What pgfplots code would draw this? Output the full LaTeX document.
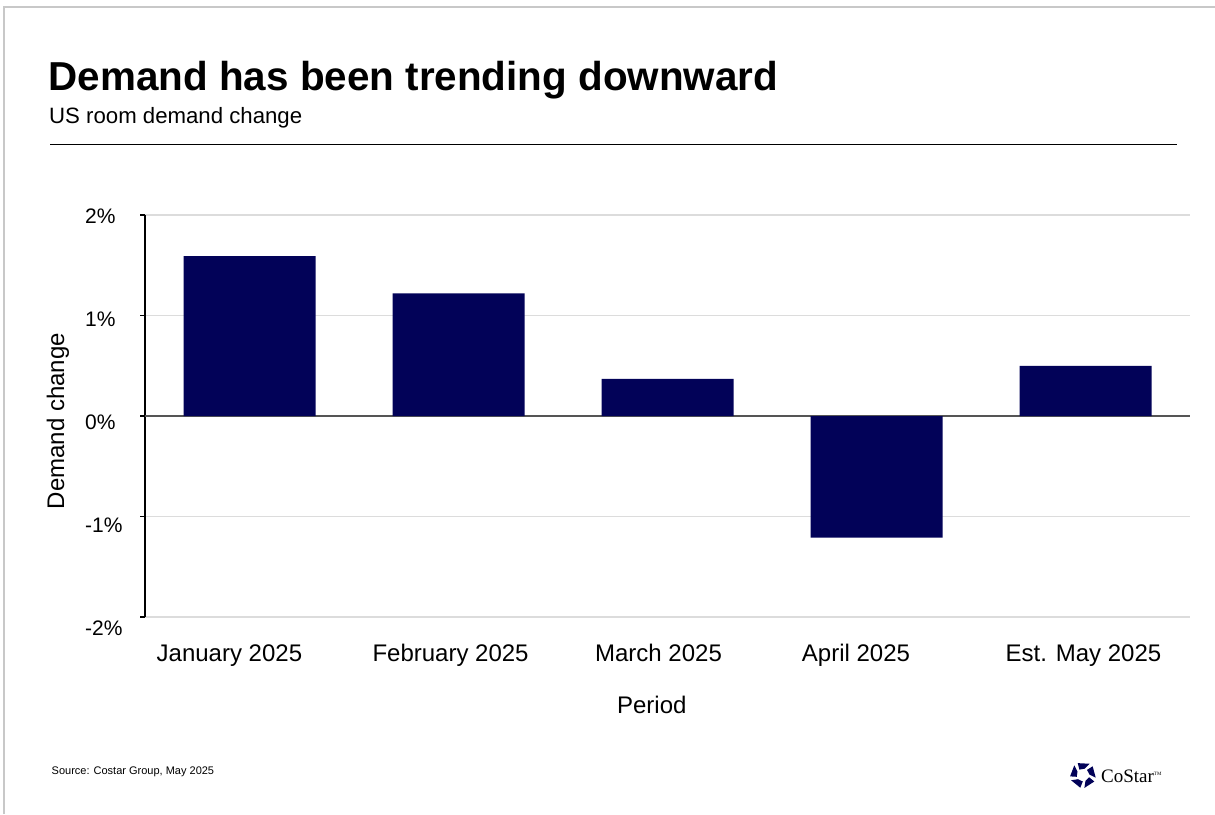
\documentclass[border=0pt]{standalone}
\usepackage{pgfplots}
\pgfplotsset{compat=1.18}
\usepackage{pgfplotstable}
\usepackage{fontspec}
\setmainfont{Liberation Sans}
\newfontfamily\seriffont{Liberation Serif}
\definecolor{navy}{RGB}{2,2,88}
\definecolor{gridgray}{RGB}{220,220,220}
\definecolor{zerogray}{RGB}{85,85,85}
\definecolor{bordergray}{RGB}{200,200,200}
\pgfplotstableread{
x y
0 1.59
1 1.22
2 0.37
3 -1.21
4 0.50
}\demand
\begin{document}
\begin{tikzpicture}
\path[use as bounding box] (0,0) rectangle (1215pt,-814pt);
\fill[white] (0,0) rectangle (1215pt,-814pt);
\draw[bordergray, line width=1.2pt] (4pt,-814pt) -- (4pt,-7pt) -- (1215pt,-7pt);
\node[anchor=base west, inner sep=0pt, font=\fontsize{40.4}{48}\selectfont\bfseries] at (48.5pt,-90pt) {Demand has been trending downward};
\node[anchor=base west, inner sep=0pt, font=\fontsize{22.2}{26}\selectfont] at (49pt,-123pt) {US room demand change};
\draw[black, line width=1.6pt] (50pt,-144.5pt) -- (1177pt,-144.5pt);
\begin{axis}[
  at={(145pt,-617pt)}, anchor=south west,
  scale only axis, width=1045pt, height=402pt,
  xmin=-0.5, xmax=4.5, ymin=-2, ymax=2,
  ybar, bar width=132pt,
  axis x line*=bottom, axis y line*=left,
  x axis line style={draw=none},
  y axis line style={black, line width=1.4pt},
  tick align=outside, major tick length=5pt,
  ytick style={black, line width=1.2pt},
  xtick style={draw=none},
  ytick={-2,-1,0,1,2},
  yticklabels={\raisebox{-5pt}{-2\%},\raisebox{-2.5pt}{-1\%},0\%,\raisebox{2.5pt}{1\%},\raisebox{5pt}{2\%}},
  yticklabel style={font=\fontsize{21}{25}\selectfont, anchor=base west, inner sep=0pt, xshift=-55pt, yshift=-13.4pt},
  xtick={-0.096,0.962,1.957,2.902,3.99},
  xticklabels={January 2025, February 2025, March 2025, April 2025, Est. May 2025},
  xticklabel style={font=\fontsize{24}{28}\selectfont, anchor=base, inner sep=0pt, yshift=-39pt},
  ymajorgrids,
  major grid style={gridgray, line width=1.5pt},
  extra y ticks={0}, extra y tick labels={},
  extra y tick style={major grid style={zerogray, line width=1.8pt}},
  xlabel={Period},
  xlabel style={at={(axis description cs:0.485,-0.241)}, anchor=base, font=\fontsize{24}{28}\selectfont},
  ylabel={Demand change},
  ylabel style={at={(axis description cs:-0.0833,0.4876)}, anchor=center, font=\fontsize{24}{28}\selectfont},
]
\addplot[fill=navy, draw=none] table[x=x, y=y]{\demand};
\end{axis}
\node[anchor=base west, inner sep=0pt, font=\fontsize{11}{13}\selectfont] at (51.5pt,-774pt) {Source: Costar Group, May 2025};
\begin{scope}[shift={(1083pt,-775pt)}]
\foreach \a in {90,162,234,306,18} \fill[navy] (\a-30:13pt) -- (\a+24:13pt) -- (\a+34:6.5pt) -- (\a-14:6.5pt) -- cycle;
\end{scope}
\node[anchor=base west, inner sep=0pt, font=\seriffont\fontsize{19}{22}\selectfont] at (1101pt,-782pt) {CoStar\raisebox{7pt}{\fontsize{5}{6}\selectfont TM}};
\end{tikzpicture}
\end{document}
